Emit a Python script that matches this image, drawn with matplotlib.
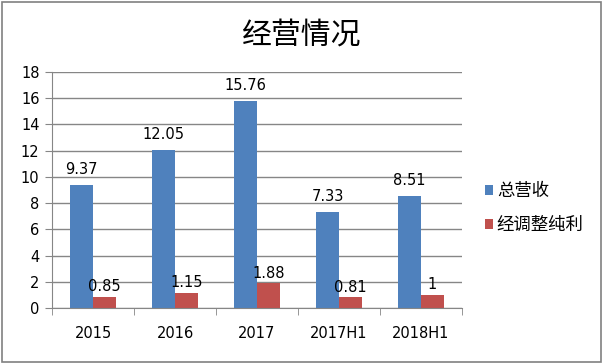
import matplotlib
matplotlib.use('Agg')
import matplotlib.pyplot as plt
import numpy as np
from matplotlib.patches import Rectangle

plt.rcParams['font.family'] = ['Noto Sans CJK SC', 'DejaVu Sans']

# Data
categories = ['2015', '2016', '2017', '2017H1', '2018H1']
revenue = [9.37, 12.05, 15.76, 7.33, 8.51]
net_profit = [0.85, 1.15, 1.88, 0.81, 1]
revenue_labels = ['9.37', '12.05', '15.76', '7.33', '8.51']
profit_labels = ['0.85', '1.15', '1.88', '0.81', '1']
series_names = ['总营收', '经调整纯利']

blue = '#4F81BD'
red = '#C0504D'
grid_gray = '#868686'

fig = plt.figure(figsize=(6.03, 3.64), dpi=100)
ax = fig.add_axes([52 / 603, 1 - 308 / 364, 410 / 603, 236 / 364])

x = np.arange(len(categories))
w = 0.28
b1 = ax.bar(x - w / 2, revenue, width=w, color=blue, label=series_names[0])
b2 = ax.bar(x + w / 2, net_profit, width=w, color=red, label=series_names[1])

for rect, lab in zip(b1, revenue_labels):
    ax.annotate(lab, (rect.get_x() + rect.get_width() / 2, rect.get_height()),
                xytext=(0, 6), textcoords='offset points', ha='center',
                va='bottom', fontsize=10.5, family='DejaVu Sans')
for rect, lab in zip(b2, profit_labels):
    ax.annotate(lab, (rect.get_x() + rect.get_width() / 2, rect.get_height()),
                xytext=(0, 2), textcoords='offset points', ha='center',
                va='bottom', fontsize=10.5, family='DejaVu Sans')

ax.set_xlim(-0.5, len(categories) - 0.5)
ax.set_ylim(0, 18)
ax.set_yticks(np.arange(0, 19, 2))
ax.tick_params(axis='y', labelsize=10.5, length=5, color=grid_gray, pad=4)
ax.set_yticklabels([str(v) for v in range(0, 19, 2)], family='DejaVu Sans')

# category labels centered, tick marks at boundaries
ax.set_xticks(x)
ax.set_xticklabels(categories, family='DejaVu Sans', fontsize=10.5)
ax.tick_params(axis='x', length=0, pad=13)
ax.set_xticks(np.arange(-0.5, len(categories), 1), minor=True)
ax.tick_params(axis='x', which='minor', length=5, color=grid_gray)

ax.yaxis.grid(True, color=grid_gray, linewidth=1)
ax.set_axisbelow(True)
for s in ['top', 'right']:
    ax.spines[s].set_visible(False)
ax.spines['left'].set_color(grid_gray)
ax.spines['bottom'].set_color(grid_gray)

fig.text(0.5, 1 - 35 / 364, '经营情况', ha='center', va='center', fontsize=21.5)

leg = fig.legend(handles=[b1, b2], labels=series_names,
                 loc='center left', bbox_to_anchor=(469 / 603, 1 - 208 / 364),
                 frameon=False, fontsize=12.5, handlelength=0.5, handleheight=0.5,
                 handletextpad=0.2, labelspacing=0.9)

fig.patches.append(Rectangle((2 / 603, 2 / 364), 599 / 603, 360 / 364,
                             transform=fig.transFigure, fill=False,
                             edgecolor='#808080', linewidth=1.2))

fig.savefig('out.png', dpi=100)
